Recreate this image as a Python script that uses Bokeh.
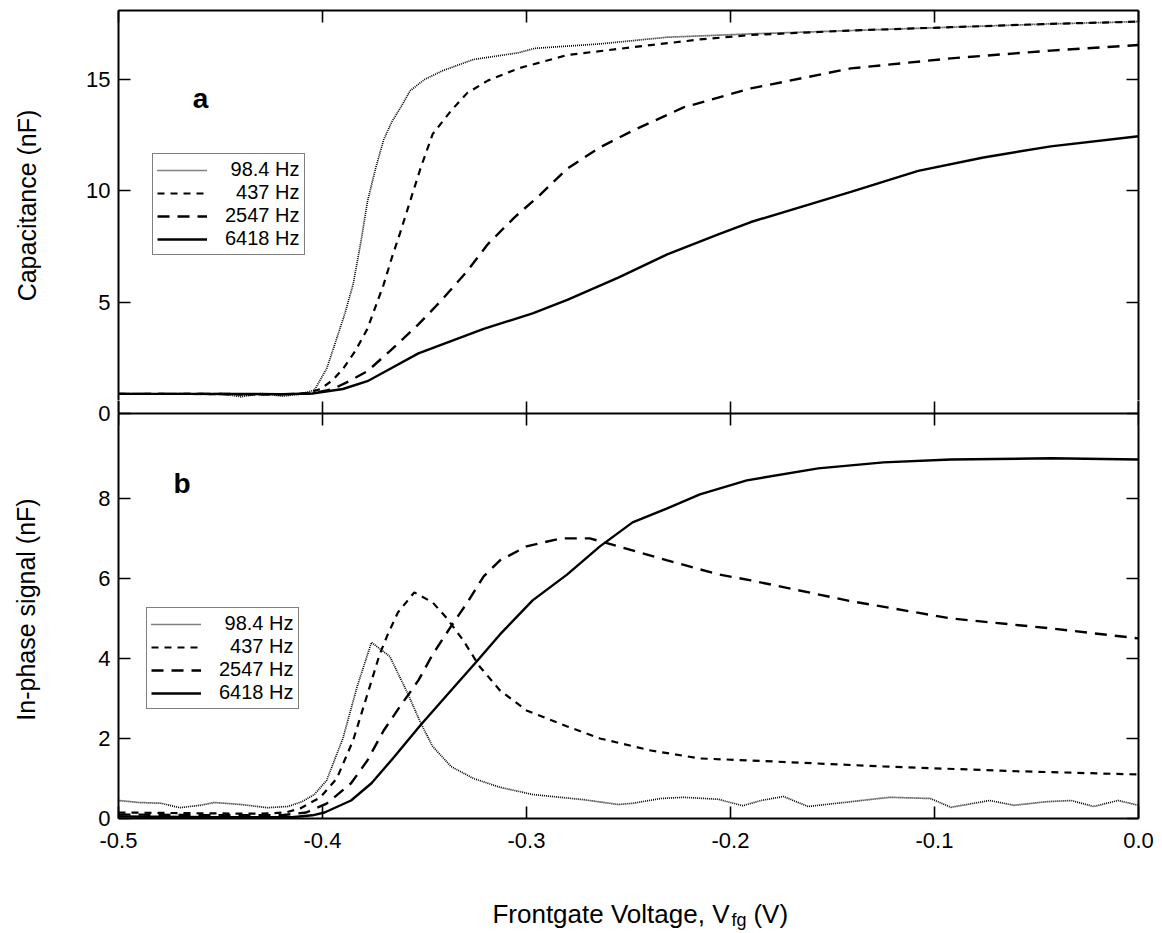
from bokeh.plotting import figure
from bokeh.layouts import column
from bokeh.models import (Range1d, LinearAxis, FixedTicker, Legend, LegendItem, Label,
                          PrintfTickFormatter)
from bokeh.core.properties import value
from bokeh.embed import file_html
from bokeh.resources import INLINE

FONT = "Liberation Sans"

# ---------------- data: panel a (Capacitance, nF) ----------------
a_984_x = [-0.500, -0.480, -0.460, -0.450, -0.440, -0.430, -0.420, -0.412, -0.404, -0.398,
           -0.394, -0.389, -0.385, -0.381, -0.378, -0.374, -0.370, -0.366, -0.362, -0.357,
           -0.350, -0.341, -0.326, -0.304, -0.296, -0.264, -0.231, -0.190, -0.141, -0.092,
           -0.043, 0.000]
a_984_y = [0.88, 0.88, 0.86, 0.90, 0.75, 0.90, 0.78, 0.85, 1.05, 2.0,
           3.1, 4.5, 5.8, 7.8, 9.5, 11.0, 12.3, 13.1, 13.7, 14.5,
           15.0, 15.4, 15.9, 16.2, 16.4, 16.6, 16.9, 17.05, 17.2, 17.35,
           17.5, 17.6]

a_437_x = [-0.500, -0.460, -0.440, -0.420, -0.408, -0.401, -0.395, -0.390, -0.384, -0.378,
           -0.374, -0.370, -0.366, -0.362, -0.357, -0.352, -0.346, -0.337, -0.329, -0.319,
           -0.304, -0.280, -0.248, -0.215, -0.190, -0.141, -0.092, -0.043, 0.000]
a_437_y = [0.88, 0.88, 0.85, 0.86, 0.90, 1.1, 1.5, 2.0, 2.8, 3.8,
           4.8, 5.8, 7.0, 8.1, 9.55, 11.0, 12.55, 13.6, 14.4, 14.95,
           15.5, 16.1, 16.45, 16.8, 17.0, 17.2, 17.35, 17.5, 17.6]

a_2547_x = [-0.500, -0.460, -0.420, -0.405, -0.395, -0.387, -0.378, -0.367, -0.353, -0.342,
            -0.329, -0.319, -0.306, -0.293, -0.280, -0.264, -0.248, -0.223, -0.190, -0.141,
            -0.092, -0.043, 0.000]
a_2547_y = [0.88, 0.88, 0.86, 0.90, 1.1, 1.45, 1.9, 2.8, 4.0, 5.05,
            6.4, 7.6, 8.8, 9.85, 11.0, 11.95, 12.7, 13.75, 14.6, 15.5,
            15.95, 16.3, 16.55]

a_6418_x = [-0.500, -0.460, -0.420, -0.405, -0.390, -0.378, -0.367, -0.353, -0.337, -0.321,
            -0.297, -0.280, -0.255, -0.231, -0.206, -0.190, -0.141, -0.108, -0.076, -0.043,
            0.000]
a_6418_y = [0.88, 0.88, 0.87, 0.90, 1.1, 1.45, 2.0, 2.7, 3.25, 3.8,
            4.5, 5.1, 6.1, 7.15, 8.05, 8.6, 9.95, 10.9, 11.5, 12.0,
            12.45]

# ---------------- data: panel b (In-phase signal, nF) ----------------
b_984_x = [-0.500, -0.490, -0.479, -0.470, -0.460, -0.453, -0.440, -0.427, -0.417, -0.410,
           -0.404, -0.398, -0.390, -0.383, -0.376, -0.367, -0.358, -0.352, -0.346, -0.337,
           -0.326, -0.313, -0.297, -0.272, -0.255, -0.248, -0.234, -0.223, -0.206, -0.194,
           -0.185, -0.174, -0.162, -0.141, -0.122, -0.102, -0.092, -0.073, -0.061, -0.045,
           -0.033, -0.022, -0.010, 0.000]
b_984_y = [0.45, 0.40, 0.38, 0.27, 0.33, 0.40, 0.35, 0.27, 0.30, 0.42,
           0.6, 0.95, 2.0, 3.3, 4.4, 4.05, 3.1, 2.4, 1.8, 1.3,
           1.0, 0.78, 0.6, 0.47, 0.35, 0.38, 0.5, 0.53, 0.48, 0.32,
           0.45, 0.55, 0.3, 0.42, 0.53, 0.5, 0.28, 0.45, 0.33, 0.42,
           0.45, 0.3, 0.45, 0.33]

b_437_x = [-0.500, -0.460, -0.430, -0.418, -0.411, -0.401, -0.393, -0.385, -0.378, -0.372,
           -0.368, -0.363, -0.355, -0.346, -0.339, -0.331, -0.323, -0.313, -0.300, -0.280,
           -0.264, -0.239, -0.215, -0.190, -0.125, -0.059, 0.000]
b_437_y = [0.15, 0.13, 0.12, 0.15, 0.25, 0.53, 1.0, 1.95, 3.1, 4.1,
           4.6, 5.15, 5.65, 5.4, 5.0, 4.45, 3.8, 3.2, 2.7, 2.3,
           2.0, 1.7, 1.5, 1.45, 1.3, 1.18, 1.1]

b_2547_x = [-0.500, -0.450, -0.420, -0.408, -0.398, -0.386, -0.378, -0.370, -0.362, -0.353,
            -0.346, -0.337, -0.329, -0.321, -0.313, -0.300, -0.283, -0.269, -0.255, -0.231,
            -0.206, -0.190, -0.141, -0.092, -0.043, 0.000]
b_2547_y = [0.10, 0.08, 0.08, 0.15, 0.37, 0.88, 1.45, 2.2, 2.8, 3.45,
            4.1, 4.8, 5.4, 6.05, 6.45, 6.8, 7.0, 7.0, 6.8, 6.45,
            6.1, 5.95, 5.43, 5.0, 4.75, 4.5]

b_6418_x = [-0.500, -0.450, -0.415, -0.405, -0.399, -0.386, -0.376, -0.365, -0.352, -0.337,
            -0.324, -0.313, -0.297, -0.280, -0.264, -0.248, -0.231, -0.215, -0.192, -0.157,
            -0.125, -0.092, -0.043, 0.000]
b_6418_y = [0.05, 0.03, 0.03, 0.08, 0.15, 0.45, 0.88, 1.53, 2.33, 3.2,
            3.95, 4.6, 5.45, 6.1, 6.8, 7.4, 7.75, 8.1, 8.45, 8.75,
            8.9, 8.97, 9.0, 8.97]

# legend labels (figure/punctuation spaces keep the labels right-aligned as in the original)
series_labels = ["\u200898.4 Hz", "\u2007437 Hz", "2547 Hz", "6418 Hz"]
x_ticks = [-0.5, -0.4, -0.3, -0.2, -0.1, 0.0]
a_ticks = [0, 5, 10, 15]
b_ticks = [0, 2, 4, 6, 8]
x_title = ["Frontgate Voltage, V", "fg", "(V)"]

styles = [dict(line_dash="1 1", line_width=1.7),
          dict(line_dash="7 6", line_width=2.2),
          dict(line_dash="12 8", line_width=2.4),
          dict(line_dash="solid", line_width=2.4)]

# ---------------- geometry ----------------
A_MAX = 18.1          # top of panel a
B_MAX = 10.12         # top of panel b (where panel a's zero sits)
A_PX = 403.0          # pixel height of panel a
B_PX = 405.0          # pixel height of panel b
OVER = 13.0           # pixels of panel a drawn inside the lower canvas
A_LO = A_MAX * OVER / A_PX
B_HI = B_MAX * (B_PX + OVER) / B_PX

x_range = Range1d(-0.5, 0.0)


def make_fig(height, y_range, min_top, min_bottom):
    p = figure(width=1162, height=height, x_range=x_range, y_range=y_range,
               output_backend="svg", toolbar_location=None,
               x_axis_location=None, y_axis_location=None,
               min_border_left=118, min_border_right=24,
               min_border_top=min_top, min_border_bottom=min_bottom)
    p.grid.visible = False
    p.outline_line_color = None
    p.background_fill_color = "white"
    p.border_fill_color = "white"
    return p


def add_axis(p, side, ticks, label=None, labels=None, standoff=0, label_standoff=0,
             line=True, fixed=None, formatter=None):
    ax = LinearAxis(ticker=FixedTicker(ticks=ticks))
    if fixed is not None:
        ax.fixed_location = fixed
    ax.axis_line_color = "black" if line else None
    ax.axis_line_width = 2
    ax.major_tick_in = 12
    ax.major_tick_out = 0
    ax.major_tick_line_color = "black"
    ax.major_tick_line_width = 1.6
    ax.minor_tick_line_color = None
    if labels is not None or formatter is not None:
        if formatter is not None:
            ax.formatter = formatter
        if labels is not None:
            ax.major_label_overrides = labels
        ax.major_label_text_font = FONT
        ax.major_label_text_font_size = "22px"
        ax.major_label_text_color = "black"
        ax.major_label_standoff = standoff
    else:
        ax.major_label_text_font_size = "0px"
        ax.major_label_text_color = None
        ax.major_label_standoff = 0
    if label:
        ax.axis_label = label
        ax.axis_label_text_font = FONT
        ax.axis_label_text_font_size = "25px"
        ax.axis_label_text_font_style = "normal"
        ax.axis_label_text_color = "black"
        ax.axis_label_standoff = label_standoff
    p.add_layout(ax, side)
    return ax


def add_legend(p, renderers, loc):
    items = [LegendItem(label=lab, renderers=[r]) for lab, r in zip(series_labels, renderers)]
    lg = Legend(items=items, location=loc)
    lg.border_line_color = "black"
    lg.border_line_width = 1.6
    lg.background_fill_color = "white"
    lg.background_fill_alpha = 1.0
    lg.label_text_font = FONT
    lg.label_text_font_size = "20px"
    lg.label_text_color = "black"
    lg.glyph_width = 50
    lg.glyph_height = 20
    lg.label_height = 20
    lg.label_standoff = 18
    lg.spacing = 0
    lg.padding = 4
    lg.margin = 0
    p.add_layout(lg)


# ---------------- panel a ----------------
p1 = make_fig(400, Range1d(A_LO, A_MAX), 10, 0)
add_axis(p1, "left", a_ticks, label="Capacitance (nF)",
         labels={t: str(t) for t in a_ticks}, standoff=8, label_standoff=42)
add_axis(p1, "right", a_ticks)
add_axis(p1, "above", x_ticks)

ra = []
for xs, ys, st in zip([a_984_x, a_437_x, a_2547_x, a_6418_x],
                      [a_984_y, a_437_y, a_2547_y, a_6418_y], styles):
    ra.append(p1.line(xs, ys, line_color="black", **st))
add_legend(p1, ra, (34, 145))
p1.add_layout(Label(x=-0.4598, y=14.15, text="a", text_font=FONT, text_font_size="28px",
                    text_font_style="bold", text_align="center", text_baseline="alphabetic",
                    text_color="black"))

# ---------------- panel b ----------------
p2 = make_fig(460, Range1d(0, B_HI), 0, 42)
b_left_ticks = b_ticks + [B_MAX]
b_left_labels = {t: str(t) for t in b_ticks}
b_left_labels[B_MAX] = str(a_ticks[0])
add_axis(p2, "left", b_left_ticks, label="In-phase signal (nF)",
         labels=b_left_labels, standoff=8, label_standoff=55)
add_axis(p2, "right", b_left_ticks)
add_axis(p2, "below", x_ticks, formatter=PrintfTickFormatter(format="%.1f"), standoff=14)
# shared boundary between the panels: ticks into both panels
add_axis(p2, "above", x_ticks, fixed=B_MAX, line=True)
add_axis(p2, "below", x_ticks, fixed=B_MAX, line=False)

rb = []
for xs, ys, st in zip([b_984_x, b_437_x, b_2547_x, b_6418_x],
                      [b_984_y, b_437_y, b_2547_y, b_6418_y], styles):
    rb.append(p2.line(xs, ys, line_color="black", **st))
add_legend(p2, rb, (28, 109))
p2.add_layout(Label(x=-0.473, y=8.37, text="b", text_font=FONT, text_font_size="28px",
                    text_font_style="bold", text_align="left", text_baseline="alphabetic",
                    text_color="black"))

# ---------------- x-axis title (with subscript) ----------------
p3 = figure(width=1162, height=73, x_range=x_range, y_range=Range1d(0, 73),
            output_backend="svg", toolbar_location=None,
            x_axis_location=None, y_axis_location=None,
            min_border_left=118, min_border_right=24, min_border_top=0, min_border_bottom=0)
p3.grid.visible = False
p3.outline_line_color = None
p3.border_fill_color = "white"
X0 = -0.3167
p3.text(x=[X0], y=[20], text=[x_title[0]], text_font=value(FONT), text_font_size="26px",
        text_align="left", text_baseline="alphabetic", text_color="black")
p3.text(x=[X0], y=[14], text=[x_title[1]], text_font=value(FONT), text_font_size="18px",
        text_align="left", text_baseline="alphabetic", text_color="black", x_offset=239)
p3.text(x=[X0], y=[20], text=[x_title[2]], text_font=value(FONT), text_font_size="26px",
        text_align="left", text_baseline="alphabetic", text_color="black", x_offset=261)

layout = column(p1, p2, p3, spacing=0)
open("out.html", "w").write(file_html(layout, INLINE))
